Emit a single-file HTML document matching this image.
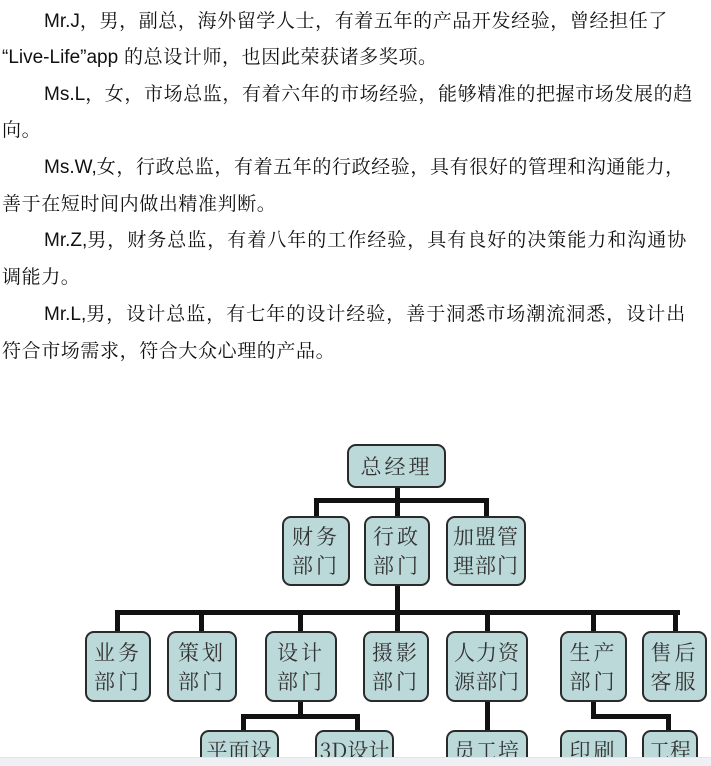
<!DOCTYPE html>
<html style="width:711px;height:766px;overflow:hidden"><head><meta charset="utf-8"><style>
body{margin:0;width:711px;height:766px;background:#fff;position:relative;overflow:hidden}
.t{position:absolute;white-space:nowrap;font-family:"Liberation Sans","Noto Serif CJK SC",serif;font-size:19px;letter-spacing:0.6px;color:#111;line-height:24px}
.t b{font-weight:normal;font-family:"Liberation Sans",sans-serif;letter-spacing:0}
.bx{position:absolute;box-sizing:border-box;border:2px solid #2a2a2a;border-radius:9px;background:#bcd9da;font-family:"Noto Serif CJK SC",serif;color:#333;font-size:21px;line-height:29px;text-align:center;display:flex;align-items:center;justify-content:center;letter-spacing:3px}
.l{position:absolute;background:#111}
</style></head><body>
<div class="t" style="left:44px;top:10px"><b>Mr.J</b>，男，副总，海外留学人士，有着五年的产品开发经验，曾经担任了</div>
<div class="t" style="left:2px;top:46px"><b>“Live-Life”app</b> 的总设计师，也因此荣获诸多奖项。</div>
<div class="t" style="left:44px;top:83px"><b>Ms.L</b>，女，市场总监，有着六年的市场经验，能够精准的把握市场发展的趋</div>
<div class="t" style="left:2px;top:119px">向。</div>
<div class="t" style="left:44px;top:156px"><b>Ms.W,</b>女，行政总监，有着五年的行政经验，具有很好的管理和沟通能力，</div>
<div class="t" style="left:2px;top:193px">善于在短时间内做出精准判断。</div>
<div class="t" style="left:44px;top:229px;letter-spacing:1px"><b>Mr.Z,</b>男，财务总监，有着八年的工作经验，具有良好的决策能力和沟通协</div>
<div class="t" style="left:2px;top:266px">调能力。</div>
<div class="t" style="left:44px;top:303px;letter-spacing:1px"><b>Mr.L,</b>男，设计总监，有七年的设计经验，善于洞悉市场潮流洞悉，设计出</div>
<div class="t" style="left:2px;top:340px">符合市场需求，符合大众心理的产品。</div>

<div class="l" style="left:395px;top:486px;width:5px;height:32px"></div>
<div class="l" style="left:314px;top:498px;width:175px;height:5px"></div>
<div class="l" style="left:314px;top:498px;width:5px;height:20px"></div>
<div class="l" style="left:484px;top:498px;width:5px;height:20px"></div>
<div class="l" style="left:395px;top:584px;width:5px;height:48px"></div>
<div class="l" style="left:115px;top:610px;width:565px;height:5px"></div>
<div class="l" style="left:115px;top:610px;width:5px;height:22px"></div>
<div class="l" style="left:199px;top:610px;width:5px;height:22px"></div>
<div class="l" style="left:298px;top:610px;width:5px;height:22px"></div>
<div class="l" style="left:485px;top:610px;width:5px;height:22px"></div>
<div class="l" style="left:591px;top:610px;width:5px;height:22px"></div>
<div class="l" style="left:673px;top:610px;width:5px;height:22px"></div>
<div class="l" style="left:298px;top:700px;width:5px;height:18px"></div>
<div class="l" style="left:241px;top:714px;width:119px;height:5px"></div>
<div class="l" style="left:241px;top:714px;width:5px;height:18px"></div>
<div class="l" style="left:355px;top:714px;width:5px;height:18px"></div>
<div class="l" style="left:485px;top:700px;width:5px;height:32px"></div>
<div class="l" style="left:591px;top:700px;width:5px;height:18px"></div>
<div class="l" style="left:591px;top:714px;width:80px;height:5px"></div>
<div class="l" style="left:666px;top:714px;width:5px;height:18px"></div>

<div class="bx" style="left:347px;top:444px;width:99px;height:44px">总经理</div>
<div class="bx" style="left:282px;top:516px;width:68px;height:70px">财务<br>部门</div>
<div class="bx" style="left:364px;top:516px;width:66px;height:70px">行政<br>部门</div>
<div class="bx" style="left:446px;top:516px;width:80px;height:70px;letter-spacing:1px">加盟管<br>理部门</div>
<div class="bx" style="left:85px;top:631px;width:66px;height:71px">业务<br>部门</div>
<div class="bx" style="left:167px;top:631px;width:70px;height:71px">策划<br>部门</div>
<div class="bx" style="left:265px;top:631px;width:72px;height:71px">设计<br>部门</div>
<div class="bx" style="left:363px;top:631px;width:66px;height:71px">摄影<br>部门</div>
<div class="bx" style="left:446px;top:631px;width:82px;height:71px;letter-spacing:1px">人力资<br>源部门</div>
<div class="bx" style="left:560px;top:631px;width:67px;height:71px">生产<br>部门</div>
<div class="bx" style="left:642px;top:631px;width:65px;height:71px">售后<br>客服</div>
<div class="bx" style="left:200px;top:730px;width:79px;height:36px;border-bottom:none;border-radius:9px 9px 0 0;align-items:flex-start;padding-top:4px;letter-spacing:1px">平面设</div>
<div class="bx" style="left:315px;top:730px;width:79px;height:36px;border-bottom:none;border-radius:9px 9px 0 0;align-items:flex-start;padding-top:4px;letter-spacing:0">3D设计</div>
<div class="bx" style="left:446px;top:730px;width:82px;height:36px;border-bottom:none;border-radius:9px 9px 0 0;align-items:flex-start;padding-top:4px;letter-spacing:1px">员工培</div>
<div class="bx" style="left:560px;top:730px;width:67px;height:36px;border-bottom:none;border-radius:9px 9px 0 0;align-items:flex-start;padding-top:4px">印刷</div>
<div class="bx" style="left:642px;top:730px;width:56px;height:36px;border-bottom:none;border-radius:9px 9px 0 0;align-items:flex-start;padding-top:4px;letter-spacing:0">工程</div>
<div style="position:absolute;z-index:5;left:0;top:757px;width:711px;height:9px;background:#eef0f3;border-top:1px solid #e2e5ea"></div>
</body></html>
